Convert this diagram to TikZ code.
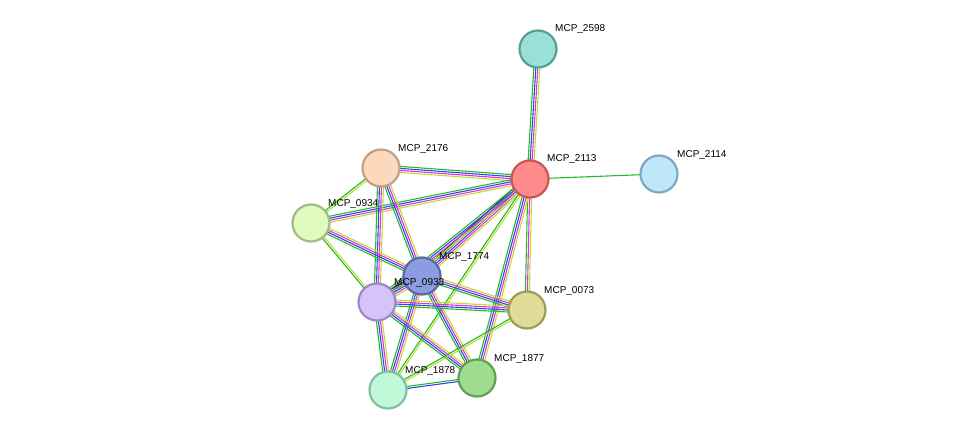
\documentclass[tikz,border=0pt]{standalone}
\usepackage{fontspec}
\setmainfont{Liberation Sans}
\usetikzlibrary{calc}
\pgfdeclarelayer{background}
\pgfsetlayers{background,main}
\definecolor{eg}{HTML}{22BB22}
\definecolor{eb}{HTML}{3344EE}
\definecolor{em}{HTML}{DD33DD}
\definecolor{ey}{HTML}{BBDD33}
\definecolor{ek}{HTML}{333333}
\newcommand\lfull{eg/-3,eb/-1,em/1,ey/3}
\newcommand\lfullk{ek/-4,eg/-2,eb/0,em/2,ey/4}
\newcommand\lgy{eg/-1,ey/1}
\newcommand\lgonly{eg/0}
\newcommand\lgmy{eg/-2,em/0,ey/2}
\newcommand\lbg{eb/-1,eg/1}
\newcommand\myedge[3]{\foreach \c/\o in #3 {\draw[\c,line width=1.1pt] ($(#1.center)!\o pt!90:(#2.center)$) -- ($(#2.center)!\o pt!-90:(#1.center)$);}}
\tikzset{
 prot/.style={circle,minimum size=37pt,inner sep=0pt,line width=2.2pt},
 lab/.style={anchor=south west,font=\fontsize{10}{12}\selectfont,inner sep=1pt}
}
\begin{document}
\begin{tikzpicture}[x=1pt,y=-1pt]
\useasboundingbox (0,0) rectangle (975,436);
\node[prot,fill={rgb,255:red,153;green,224;blue,214},draw={rgb,255:red,90;green,158;blue,150}] (n2598) at (538,49) {};
\node[prot,fill={rgb,255:red,255;green,140;blue,140},draw={rgb,255:red,204;green,85;blue,85}] (n2113) at (530,179) {};
\node[prot,fill={rgb,255:red,191;green,230;blue,250},draw={rgb,255:red,126;green,168;blue,192}] (n2114) at (659,174) {};
\node[prot,fill={rgb,255:red,252;green,217;blue,189},draw={rgb,255:red,192;green,160;blue,136}] (n2176) at (381,168) {};
\node[prot,fill={rgb,255:red,224;green,251;blue,192},draw={rgb,255:red,160;green,188;blue,128}] (n0934) at (311,223) {};
\node[prot,fill={rgb,255:red,140;green,156;blue,224},draw={rgb,255:red,90;green,106;blue,160}] (n1774) at (422,276) {};
\node[prot,fill={rgb,255:red,212;green,196;blue,250},draw={rgb,255:red,154;green,136;blue,200}] (n0933) at (377,302) {};
\node[prot,fill={rgb,255:red,224;green,220;blue,152},draw={rgb,255:red,160;green,156;blue,88}] (n0073) at (527,310) {};
\node[prot,fill={rgb,255:red,160;green,220;blue,144},draw={rgb,255:red,96;green,160;blue,80}] (n1877) at (477,378) {};
\node[prot,fill={rgb,255:red,192;green,248;blue,216},draw={rgb,255:red,128;green,192;blue,160}] (n1878) at (388,390) {};
\begin{pgfonlayer}{background}
\myedge{n2598}{n2113}{\lfull}
\myedge{n2113}{n2114}{\lgonly}
\myedge{n2113}{n2176}{\lfull}
\myedge{n2113}{n0934}{\lfull}
\myedge{n2113}{n1774}{\lfullk}
\myedge{n2113}{n0933}{\lfull}
\myedge{n2113}{n0073}{\lgmy}
\myedge{n2113}{n1877}{\lfull}
\myedge{n2113}{n1878}{\lgy}
\myedge{n2176}{n0934}{\lgy}
\myedge{n2176}{n1774}{\lfull}
\myedge{n2176}{n0933}{\lfull}
\myedge{n0934}{n1774}{\lfull}
\myedge{n0934}{n0933}{\lgy}
\myedge{n1774}{n0933}{\lfullk}
\myedge{n1774}{n0073}{\lfull}
\myedge{n1774}{n1877}{\lfull}
\myedge{n1774}{n1878}{\lfull}
\myedge{n0933}{n0073}{\lfull}
\myedge{n0933}{n1877}{\lfull}
\myedge{n0933}{n1878}{\lfull}
\myedge{n1878}{n1877}{\lbg}
\myedge{n0073}{n1878}{\lgy}
\end{pgfonlayer}
\node[lab] at (554,35) {MCP\_2598};
\node[lab] at (546,165) {MCP\_2113};
\node[lab] at (676,161) {MCP\_2114};
\node[lab] at (397,155) {MCP\_2176};
\node[lab] at (327,210) {MCP\_0934};
\node[lab] at (438,263) {MCP\_1774};
\node[lab] at (393,289) {MCP\_0933};
\node[lab] at (543,297) {MCP\_0073};
\node[lab] at (493,365) {MCP\_1877};
\node[lab] at (404,377) {MCP\_1878};
\end{tikzpicture}
\end{document}
